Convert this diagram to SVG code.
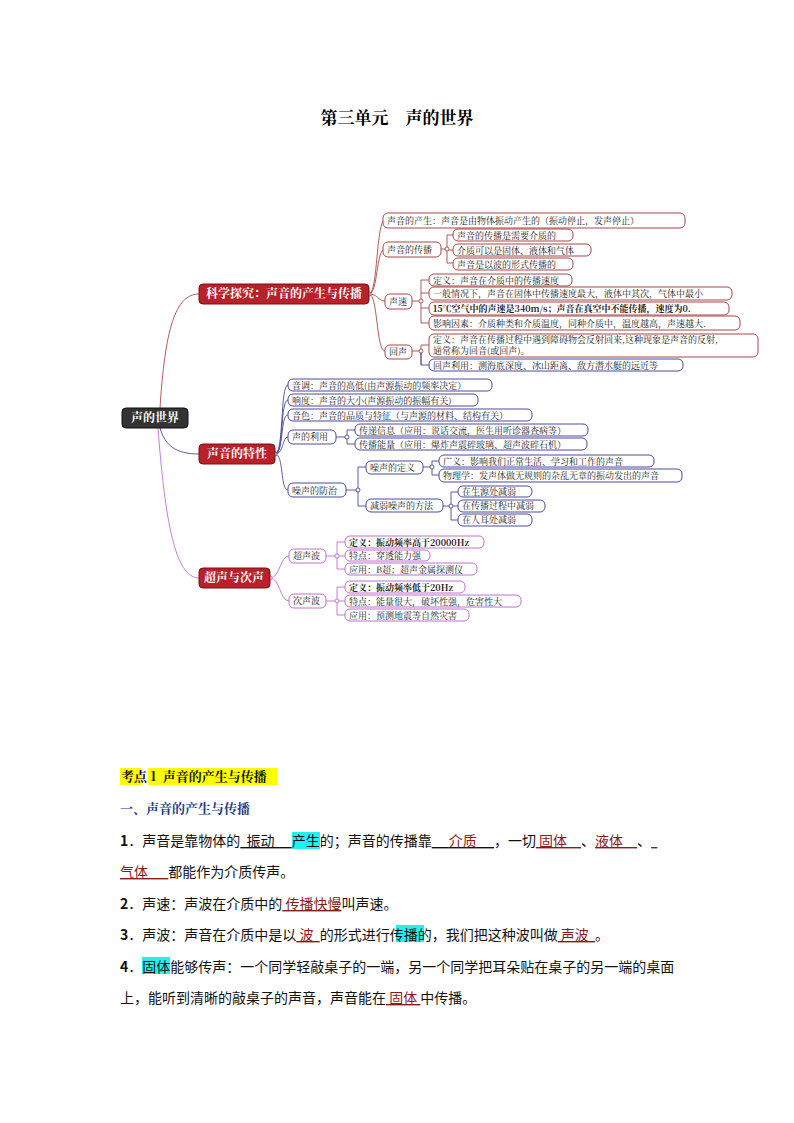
<svg xmlns="http://www.w3.org/2000/svg" width="794" height="1123" viewBox="0 0 794 1123">
<style>
text{font-family:"Noto Serif CJK SC","Noto Sans CJK SC",serif;}
.l{font-size:9px;fill:#222}
.b1{fill:#fff;stroke:#a84848;stroke-width:1}
.b2{fill:#fff;stroke:#4a4a9a;stroke-width:1}
.b3{fill:#fff;stroke:#c070d0;stroke-width:1}
.m{fill:#b8202a;stroke:#7a1010}
.mt{font-size:12px;fill:#fff;font-weight:bold}
.c1{fill:none;stroke:#a84848;stroke-width:0.9}
.c2{fill:none;stroke:#4a4a9a;stroke-width:0.9}
.c3{fill:none;stroke:#c070d0;stroke-width:0.9}
.p{font-size:14px;fill:#111;font-family:"Noto Sans CJK SC",sans-serif}
.r{fill:#8b1a1a;text-decoration:underline}
.u{text-decoration:underline}
</style>
<text x="397" y="124" text-anchor="middle" font-size="17" font-weight="bold" font-family="Noto Sans CJK SC,sans-serif">第三单元　声的世界</text>

<g id="connectors">
<path class="c1" d="M160,408 C165,330 175,294 199,294" stroke="#9a1010"/>
<path class="c2" d="M160,428 C165,445 175,454 199,454"/>
<path class="c3" d="M158,428 C165,520 175,578 199,578" stroke="#b030c0"/>
<path class="c1" d="M369,294 C378,294 376,220 385,220 M369,294 C378,294 376,249 385,249 M369,294 C378,294 378,301 385,301 M369,294 C378,294 376,351 385,351"/>
<path class="c1" d="M441,249 H447 M447,235 V263 M447,235 H453 M447,250 H453 M447,263 H453"/>
<path class="c1" d="M412,301 H421 M421,280 V323 M421,280 H429 M421,293 H429 M421,308 H429 M421,323 H429"/>
<path class="c1" d="M412,351 H421 M421,345 V365 M421,345 H429"/>
<path class="c2" d="M421,351 V365 H429"/>
<path class="c2" d="M275,454 C284,454 280,385 288,385 M275,454 C284,454 280,400 288,400 M275,454 C284,454 280,415 288,415 M275,454 C284,454 282,437 288,437 M275,454 C284,454 280,490 288,490"/>
<path class="c2" d="M336,437 H347 M347,430 V444 H355 M347,430 H355"/>
<path class="c2" d="M346,490 H358 M358,467 V506 M358,467 H366 M358,506 H366"/>
<path class="c2" d="M423,467 H432 M432,461 V475 M432,461 H439 M432,475 H439"/>
<path class="c2" d="M443,506 H451 M451,492 V520 M451,492 H458 M451,506 H458 M451,520 H458"/>
<path class="c3" d="M270,578 C280,578 280,556 289,556 M270,578 C280,578 280,601 289,601"/>
<path class="c3" d="M326,556 H337 M337,542 V569 M337,542 H345 M337,556 H345 M337,569 H345"/>
<path class="c3" d="M326,601 H337 M337,587 V615 M337,587 H345 M337,601 H345 M337,615 H345"/>
<g fill="#fff" stroke-width="0.9"><circle cx="369" cy="294" r="2" stroke="#a84848"/><circle cx="421" cy="301" r="2" stroke="#a84848"/><circle cx="421" cy="351" r="2" stroke="#a84848"/><circle cx="447" cy="249" r="2" stroke="#a84848"/><circle cx="275" cy="454" r="2" stroke="#4a4a9a"/><circle cx="347" cy="437" r="2" stroke="#4a4a9a"/><circle cx="358" cy="490" r="2" stroke="#4a4a9a"/><circle cx="432" cy="467" r="2" stroke="#4a4a9a"/><circle cx="451" cy="506" r="2" stroke="#4a4a9a"/><circle cx="270" cy="578" r="2" stroke="#c070d0"/><circle cx="337" cy="556" r="2" stroke="#c070d0"/><circle cx="337" cy="601" r="2" stroke="#c070d0"/></g>
</g>

<g id="root"><rect x="122" y="408" width="66" height="20" rx="4" fill="#333" stroke="#111"/><text x="155" y="422" text-anchor="middle" font-size="12" fill="#fff" font-weight="bold">声的世界</text></g>

<g id="m1"><rect class="m" x="199" y="284" width="170" height="20" rx="4"/><text class="mt" x="284" y="298" text-anchor="middle">科学探究：声音的产生与传播</text></g>
<g id="n1"><rect class="b1" x="383" y="213" width="302" height="15" rx="5"/><text class="l" x="387" y="224">声音的产生：声音是由物体振动产生的（振动停止，发声停止）</text></g>
<g id="n2"><rect class="b1" x="383" y="242" width="58" height="15" rx="5"/><text class="l" x="387" y="253">声音的传播</text></g>
<g id="n2a"><rect class="b1" x="453" y="229" width="120" height="12" rx="5"/><text class="l" x="457" y="239">声音的传播是需要介质的</text></g>
<g id="n2b"><rect class="b1" x="453" y="244" width="138" height="12" rx="5"/><text class="l" x="457" y="254">介质可以是固体、液体和气体</text></g>
<g id="n2c"><rect class="b1" x="453" y="258" width="120" height="12" rx="5"/><text class="l" x="457" y="268">声音是以波的形式传播的</text></g>
<g id="n3"><rect class="b1" x="385" y="294" width="27" height="15" rx="5"/><text class="l" x="389" y="305">声速</text></g>
<g id="n3a"><rect class="b1" x="429" y="274" width="143" height="12" rx="5"/><text class="l" x="433" y="284">定义：声音在介质中的传播速度</text></g>
<g id="n3b"><rect class="b1" x="429" y="287" width="303" height="13" rx="5"/><text class="l" x="433" y="297">一般情况下，声音在固体中传播速度最大，液体中其次，气体中最小</text></g>
<g id="n3c"><rect class="b1" x="429" y="302" width="300" height="13" rx="5"/><text class="l" x="433" y="312" font-weight="bold">15℃空气中的声速是340m/s；声音在真空中不能传播，速度为0.</text></g>
<g id="n3d"><rect class="b1" x="429" y="316" width="311" height="14" rx="5"/><text class="l" x="433" y="327">影响因素：介质种类和介质温度，同种介质中，温度越高，声速越大.</text></g>
<g id="n4"><rect class="b1" x="385" y="345" width="27" height="14" rx="5"/><text class="l" x="389" y="355">回声</text></g>
<g id="n4a"><rect class="b1" x="429" y="334" width="329" height="23" rx="5"/><text class="l" x="433" y="343">定义：声音在传播过程中遇到障碍物会反射回来,这种现象是声音的反射,</text><text class="l" x="433" y="354">通常称为回音(或回声)。</text></g>
<g id="n4b"><rect class="b2" x="429" y="359" width="254" height="12" rx="5"/><text class="l" x="433" y="369">回声利用：测海底深度、冰山距离、敌方潜水艇的远近等</text></g>

<g id="m2"><rect class="m" x="199" y="444" width="76" height="20" rx="4"/><text class="mt" x="237" y="458" text-anchor="middle">声音的特性</text></g>
<g id="s1"><rect class="b2" x="288" y="379" width="204" height="12" rx="5"/><text class="l" x="292" y="389">音调：声音的高低(由声源振动的频率决定）</text></g>
<g id="s2"><rect class="b2" x="288" y="394" width="190" height="12" rx="5"/><text class="l" x="292" y="404">响度：声音的大小(声源振动的振幅有关)</text></g>
<g id="s3"><rect class="b2" x="288" y="409" width="244" height="12" rx="5"/><text class="l" x="292" y="419">音色：声音的品质与特征（与声源的材料、结构有关）</text></g>
<g id="s4"><rect class="b2" x="288" y="430" width="48" height="14" rx="5"/><text class="l" x="292" y="440">声的利用</text></g>
<g id="s4a"><rect class="b2" x="355" y="424" width="233" height="12" rx="5"/><text class="l" x="359" y="434">传递信息（应用：说话交流，医生用听诊器查病等）</text></g>
<g id="s4b"><rect class="b2" x="355" y="438" width="232" height="12" rx="5"/><text class="l" x="359" y="448">传播能量（应用：爆炸声震碎玻璃、超声波碎石机）</text></g>
<g id="s5"><rect class="b2" x="288" y="483" width="58" height="14" rx="5"/><text class="l" x="292" y="494">噪声的防治</text></g>
<g id="s5a"><rect class="b2" x="366" y="461" width="57" height="13" rx="5"/><text class="l" x="370" y="471">噪声的定义</text></g>
<g id="s5a1"><rect class="b2" x="439" y="455" width="215" height="12" rx="5"/><text class="l" x="443" y="465">广义：影响我们正常生活、学习和工作的声音</text></g>
<g id="s5a2"><rect class="b2" x="439" y="469" width="243" height="13" rx="5"/><text class="l" x="443" y="479">物理学：发声体做无规则的杂乱无章的振动发出的声音</text></g>
<g id="s5b"><rect class="b2" x="366" y="499" width="77" height="13" rx="5"/><text class="l" x="370" y="509">减弱噪声的方法</text></g>
<g id="s5b1"><rect class="b2" x="458" y="486" width="74" height="11" rx="5"/><text class="l" x="462" y="495">在生源处减弱</text></g>
<g id="s5b2"><rect class="b2" x="458" y="500" width="87" height="12" rx="5"/><text class="l" x="462" y="509">在传播过程中减弱</text></g>
<g id="s5b3"><rect class="b2" x="458" y="514" width="74" height="12" rx="5"/><text class="l" x="462" y="523">在人耳处减弱</text></g>

<g id="m3"><rect class="m" x="199" y="568" width="71" height="20" rx="4"/><text class="mt" x="234" y="582" text-anchor="middle">超声与次声</text></g>
<g id="t1"><rect class="b3" x="289" y="549" width="37" height="14" rx="5"/><text class="l" x="293" y="559">超声波</text></g>
<g id="t1a"><rect class="b3" x="345" y="536" width="139" height="12" rx="5"/><text class="l" x="349" y="546" font-weight="bold">定义：振动频率高于20000Hz</text></g>
<g id="t1b"><rect class="b3" x="345" y="550" width="85" height="11" rx="5"/><text class="l" x="349" y="559">特点：穿透能力强</text></g>
<g id="t1c"><rect class="b3" x="345" y="563" width="132" height="12" rx="5"/><text class="l" x="349" y="573">应用：B超；超声金属探测仪</text></g>
<g id="t2"><rect class="b3" x="289" y="594" width="37" height="14" rx="5"/><text class="l" x="293" y="604">次声波</text></g>
<g id="t2a"><rect class="b3" x="345" y="581" width="120" height="12" rx="5"/><text class="l" x="349" y="591" font-weight="bold">定义：振动频率低于20Hz</text></g>
<g id="t2b"><rect class="b3" x="345" y="595" width="176" height="12" rx="5"/><text class="l" x="349" y="605">特点：能量很大，破坏性强，危害性大</text></g>
<g id="t2c"><rect class="b3" x="345" y="609" width="124" height="12" rx="5"/><text class="l" x="349" y="619">应用：预测地震等自然灾害</text></g>

<rect x="120" y="768" width="22" height="17" fill="#ffff00"/><rect x="148" y="768" width="130" height="17" fill="#ffff00"/>
<text x="121" y="781" font-size="13" font-weight="bold" fill="#111" font-family="Noto Sans CJK SC,sans-serif" xml:space="preserve">考点 1  声音的产生与传播</text>
<text x="120" y="813" font-size="13" font-weight="bold" fill="#1a3a8a" font-family="Noto Sans CJK SC,sans-serif">一、声音的产生与传播</text>
<rect x="292" y="832" width="28" height="17" fill="#22f0f0"/>
<rect x="396" y="925" width="28" height="17" fill="#22f0f0"/>
<rect x="142" y="957" width="28" height="17" fill="#22f0f0"/>
<text class="p" x="120" y="846" xml:space="preserve"><tspan font-weight="bold">1</tspan>．声音是靠物体的<tspan class="u">  振动　 </tspan>产生的；声音的传播靠<tspan class="u">　 <tspan fill="#8b1a1a">介质</tspan>　 </tspan>，一切<tspan class="r"> 固体　</tspan>、<tspan class="r">液体　</tspan>、<tspan class="r">  </tspan></text>
<text class="p" x="120" y="877" xml:space="preserve"><tspan class="r">气体　  </tspan>都能作为介质传声。</text>
<text class="p" x="120" y="909" xml:space="preserve"><tspan font-weight="bold">2</tspan>．声速：声波在介质中的<tspan class="r"> 传播快慢</tspan>叫声速。</text>
<text class="p" x="120" y="940" xml:space="preserve"><tspan font-weight="bold">3</tspan>．声波：声音在介质中是以<tspan class="r"> 波  </tspan>的形式进行传播的，我们把这种波叫做<tspan class="r"> 声波  </tspan>。</text>
<text class="p" x="120" y="972" xml:space="preserve"><tspan font-weight="bold">4</tspan>．固体能够传声：一个同学轻敲桌子的一端，另一个同学把耳朵贴在桌子的另一端的桌面</text>
<text class="p" x="120" y="1003" xml:space="preserve">上，能听到清晰的敲桌子的声音，声音能在<tspan class="r"> 固体 </tspan>中传播。</text>
</svg>
